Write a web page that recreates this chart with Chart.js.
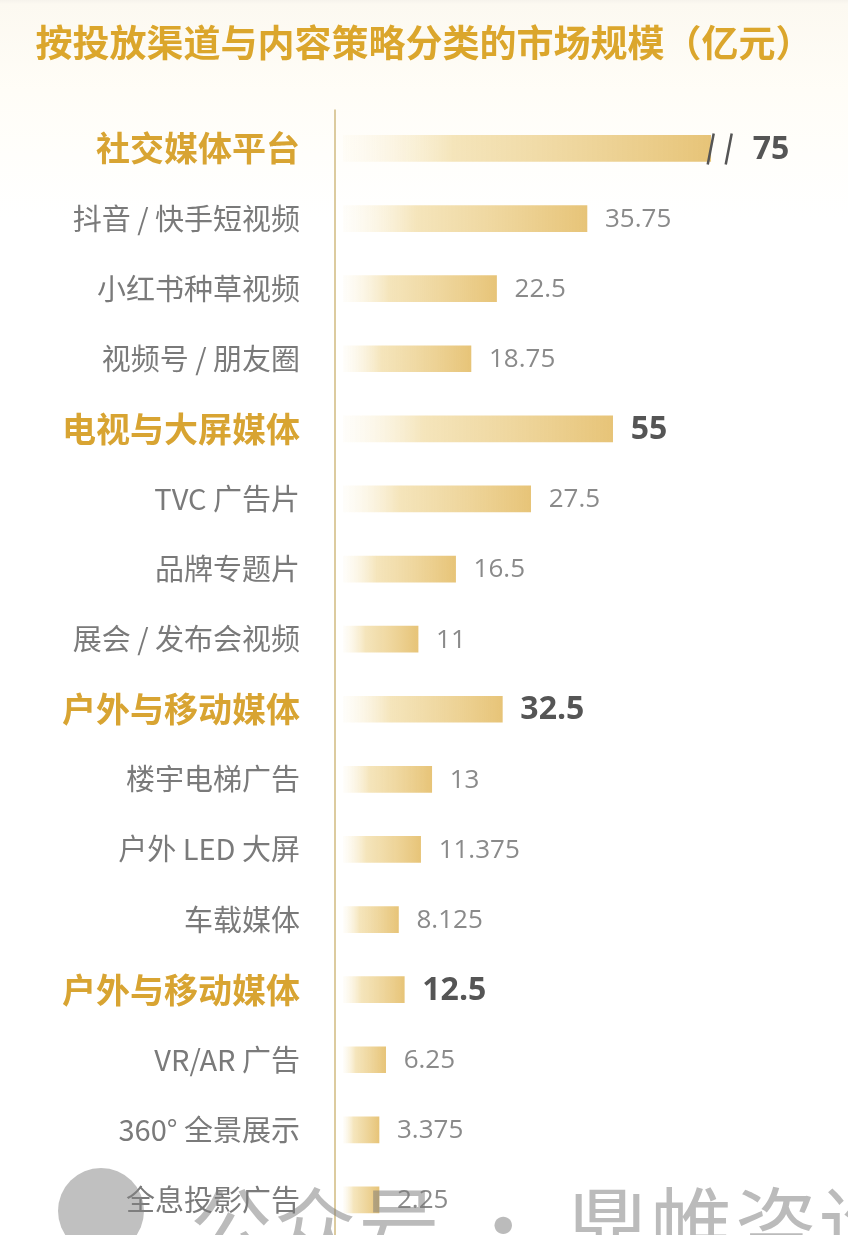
<!DOCTYPE html>
<html lang="zh">
<head>
<meta charset="utf-8">
<title>按投放渠道与内容策略分类的市场规模（亿元）</title>
<script src="https://cdn.jsdelivr.net/npm/chart.js@4.4.1/dist/chart.umd.min.js"></script>
<style>
  html, body { margin: 0; padding: 0; background: #fff; }
  .wrap {
    position: relative; width: 848px; height: 1235px; overflow: hidden;
    background: linear-gradient(#f6f3ec 0, #fcf9f1 4px, #fffdf7 90px, #ffffff 220px);
  }
  canvas { display: block; }
  .mark {
    position: absolute; left: 190px; top: 1180px;
    font: 82px "Noto Sans CJK SC", sans-serif; line-height: 1;
    color: rgba(120, 120, 120, 0.5); white-space: nowrap; letter-spacing: 2px;
  }
  .logo {
    position: absolute; left: 58px; top: 1168px; width: 86px; height: 86px;
    border-radius: 50%; background: rgba(130, 130, 130, 0.5);
  }
</style>
</head>
<body>
<div class="wrap">
  <canvas id="marketChart" width="848" height="1235"></canvas>
  <div class="logo"></div>
  <div class="mark">公众号 · 鼎帷咨询</div>
</div>
<script>
// Groups and their totals (亿元)
const groupNames = ['社交媒体平台', '电视与大屏媒体', '户外与移动媒体', '户外与移动媒体'];
const groupTotals = [75, 55, 32.5, 12.5];

// Items inside each group
const socialNames = ['抖音 / 快手短视频', '小红书种草视频', '视频号 / 朋友圈'];
const socialValues = [35.75, 22.5, 18.75];
const tvNames = ['TVC 广告片', '品牌专题片', '展会 / 发布会视频'];
const tvValues = [27.5, 16.5, 11];
const outdoorNames = ['楼宇电梯广告', '户外 LED 大屏', '车载媒体'];
const outdoorValues = [13, 11.375, 8.125];
const immersiveNames = ['VR/AR 广告', '360° 全景展示', '全息投影广告'];
const immersiveValues = [6.25, 3.375, 2.25];

const itemNames = [socialNames, tvNames, outdoorNames, immersiveNames];
const itemValues = [socialValues, tvValues, outdoorValues, immersiveValues];

// Flatten into chart rows
const labels = [];
const isGroup = [];
const groupData = [];
const itemData = [];
groupNames.forEach(function(g, i) {
  labels.push(g); isGroup.push(true); groupData.push(groupTotals[i]); itemData.push(null);
  itemNames[i].forEach(function(n, j) {
    labels.push(n); isGroup.push(false); groupData.push(null); itemData.push(itemValues[i][j]);
  });
});

const CJK = '"Noto Sans CJK SC", "Noto Sans", sans-serif';
const NUM = '"Open Sans", "Noto Sans", sans-serif';
const MIN_BAR = 36;

// Bars fade in from white on the left to gold on the right
function barFill(c) {
  const chart = c.chart;
  const area = chart.chartArea;
  if (!area || c.raw == null) return 'rgba(0,0,0,0)';
  const scale = chart.scales[c.dataset.xAxisID];
  const end = Math.max(scale.getPixelForValue(c.raw), area.left + MIN_BAR);
  const g = chart.ctx.createLinearGradient(area.left, 0, end, 0);
  g.addColorStop(0, 'rgba(250,240,212,0.1)');
  g.addColorStop(0.3, 'rgba(242,222,170,0.8)');
  g.addColorStop(1, 'rgba(231,196,120,1)');
  return g;
}

// Vertical axis line left of the bars
const axisLine = {
  id: 'axisLine',
  beforeDatasetsDraw(chart) {
    const ctx = chart.ctx;
    const x = chart.chartArea.left - 8;
    ctx.save();
    ctx.strokeStyle = '#dccb9f';
    ctx.lineWidth = 2;
    ctx.beginPath();
    ctx.moveTo(x, chart.chartArea.top - 4);
    ctx.lineTo(x, chart.height);
    ctx.stroke();
    ctx.restore();
  }
};

// Value labels after each bar, plus the break mark on the largest total
const valueLabels = {
  id: 'valueLabels',
  afterDatasetsDraw(chart) {
    const ctx = chart.ctx;
    const maxTotal = Math.max.apply(null, groupTotals);
    ctx.save();
    ctx.textBaseline = 'middle';
    ctx.textAlign = 'left';
    chart.data.datasets.forEach(function(ds, di) {
      const meta = chart.getDatasetMeta(di);
      meta.data.forEach(function(bar, i) {
        const v = ds.data[i];
        if (v == null) return;
        let x = bar.x + 18;
        if (ds.isTotal) {
          if (v === maxTotal) {
            ctx.strokeStyle = '#555';
            ctx.lineWidth = 2.5;
            ctx.beginPath();
            ctx.moveTo(bar.x - 3, bar.y + 16); ctx.lineTo(bar.x + 3, bar.y - 15);
            ctx.moveTo(bar.x + 15, bar.y + 16); ctx.lineTo(bar.x + 21, bar.y - 15);
            ctx.stroke();
            x = bar.x + 42;
          }
          ctx.font = 'bold 32px ' + NUM;
          ctx.fillStyle = '#555';
        } else {
          ctx.font = '26px ' + NUM;
          ctx.fillStyle = '#8a8a8a';
        }
        ctx.fillText(String(v), x, bar.y + 1);
      });
    });
    ctx.restore();
  }
};

new Chart(document.getElementById('marketChart').getContext('2d'), {
  type: 'bar',
  data: {
    labels: labels,
    datasets: [{
      label: '合计',
      isTotal: true,
      data: groupData,
      xAxisID: 'xTotal',
      grouped: false,
      barThickness: 26,
      backgroundColor: barFill,
      borderWidth: 0
    }, {
      label: '细分',
      isTotal: false,
      data: itemData,
      xAxisID: 'xItem',
      grouped: false,
      barThickness: 26,
      minBarLength: MIN_BAR,
      backgroundColor: barFill,
      borderWidth: 0
    }]
  },
  options: {
    indexAxis: 'y',
    responsive: false,
    animation: false,
    layout: { padding: 0 },
    plugins: {
      legend: { display: false },
      tooltip: { enabled: false },
      title: {
        display: true,
        text: '按投放渠道与内容策略分类的市场规模（亿元）',
        color: '#dba62c',
        font: { family: CJK, size: 37, weight: 'bold' },
        padding: { top: 21, bottom: 48 }
      }
    },
    scales: {
      y: {
        type: 'category',
        position: 'left',
        grid: { display: false, drawTicks: false },
        border: { display: false },
        afterFit: function(scale) {
          scale.width = 343;
          scale.paddingTop = 0;
          scale.paddingBottom = 0;
        },
        ticks: {
          autoSkip: false,
          padding: 43,
          color: function(c) { return isGroup[c.index] ? '#d8a432' : '#7a7a7a'; },
          font: function(c) {
            return isGroup[c.index]
              ? { family: CJK, size: 34, weight: 'bold' }
              : { family: CJK, size: 29 };
          }
        }
      },
      xItem: { type: 'linear', axis: 'x', position: 'bottom', min: 0, max: 74, display: false },
      xTotal: { type: 'linear', axis: 'x', position: 'bottom', min: 0, max: 103, display: false }
    }
  },
  plugins: [axisLine, valueLabels]
});
</script>
</body>
</html>
